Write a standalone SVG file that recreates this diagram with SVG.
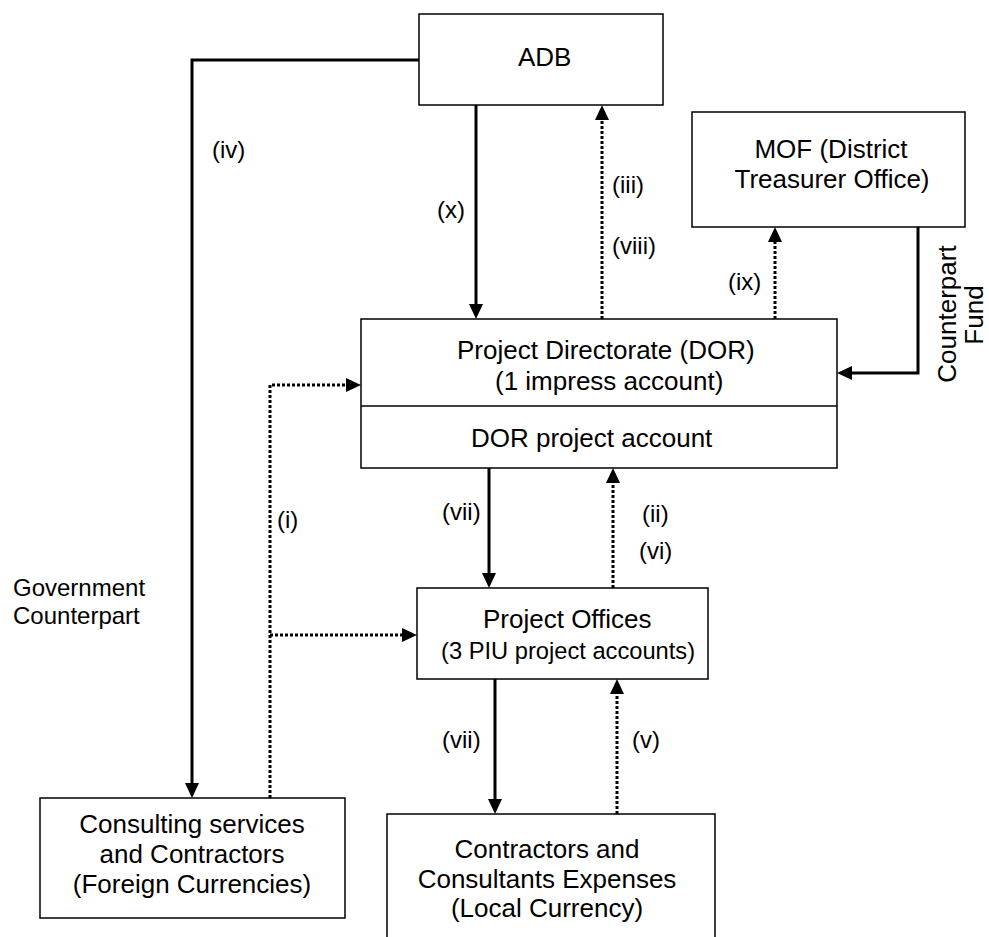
<svg xmlns="http://www.w3.org/2000/svg" width="989" height="937" viewBox="0 0 989 937">
<style>
  text { font-family: "Liberation Sans", Arial, sans-serif; fill: #000; }
  .t { font-size: 26px; }
  .s { font-size: 23.7px; }
  .lbl { font-size: 24px; }
  .box { fill: #fff; stroke: #000; stroke-width: 1.5; }
  .solid { fill: none; stroke: #000; stroke-width: 3; marker-end: url(#ah); }
  .dot { fill: none; stroke: #000; stroke-width: 3; stroke-dasharray: 3 2; marker-end: url(#ah); }
</style>
<defs>
  <marker id="ah" markerUnits="userSpaceOnUse" markerWidth="16" markerHeight="16" refX="10" refY="7" orient="auto">
    <path d="M0,0 L15,7 L0,14 z" fill="#000"/>
  </marker>
</defs>
<rect width="989" height="937" fill="#fff"/>

<g id="connectors">
  <path class="solid" d="M419,60 H192 V793"/>
  <path class="solid" d="M476,105 V314"/>
  <path class="dot" d="M602,319 V110"/>
  <path class="dot" d="M775,319 V232"/>
  <path class="solid" d="M918,227 V373 H842"/>
  <path class="dot" d="M270,798 V385 H356"/>
  <path class="dot" d="M270,635 H412"/>
  <path class="solid" d="M489,468 V583"/>
  <path class="dot" d="M613,588 V473"/>
  <path class="solid" d="M495,679 V809"/>
  <path class="dot" d="M617,814 V684"/>
</g>

<g id="labels">
  <text class="lbl" x="212" y="158">(iv)</text>
  <text class="lbl" x="437" y="218">(x)</text>
  <text class="lbl" x="612" y="193">(iii)</text>
  <text class="lbl" x="612" y="254">(viii)</text>
  <text class="lbl" x="728" y="290">(ix)</text>
  <text class="t" transform="translate(956,314) rotate(-90)" text-anchor="middle">Counterpart</text>
  <text class="t" transform="translate(983,315) rotate(-90)" text-anchor="middle">Fund</text>
  <text class="lbl" x="277" y="528">(i)</text>
  <text class="lbl" x="442" y="520">(vii)</text>
  <text class="lbl" x="642" y="522">(ii)</text>
  <text class="lbl" x="639" y="559">(vi)</text>
  <text class="lbl" x="442" y="748">(vii)</text>
  <text class="lbl" x="632" y="748">(v)</text>
  <text class="lbl" x="13" y="596">Government</text>
  <text class="lbl" x="13" y="624">Counterpart</text>
</g>

<g id="adb">
  <rect class="box" x="419" y="14" width="244" height="91"/>
  <text class="t" x="518" y="66">ADB</text>
</g>

<g id="mof">
  <rect class="box" x="692" y="112" width="273" height="115"/>
  <text class="t" x="831" y="158" text-anchor="middle">MOF (District</text>
  <text class="t" x="832" y="188" text-anchor="middle">Treasurer Office)</text>
</g>

<g id="dor">
  <rect class="box" x="361" y="319" width="476" height="149"/>
  <line x1="361" y1="406" x2="837" y2="406" stroke="#000" stroke-width="1.5"/>
  <text class="t" x="457" y="359">Project Directorate (DOR)</text>
  <text class="t" x="495" y="390">(1 impress account)</text>
  <text class="t" x="471" y="447">DOR project account</text>
</g>

<g id="project-offices">
  <rect class="box" x="417" y="588" width="291" height="91"/>
  <text class="t" x="483" y="628">Project Offices</text>
  <text class="s" x="441" y="659">(3 PIU project accounts)</text>
</g>

<g id="consulting">
  <rect class="box" x="40" y="798" width="305" height="120"/>
  <text class="t" x="192" y="833" text-anchor="middle">Consulting services</text>
  <text class="t" x="192" y="863" text-anchor="middle">and Contractors</text>
  <text class="t" x="192" y="893" text-anchor="middle">(Foreign Currencies)</text>
</g>

<g id="contractors">
  <path class="box" d="M387,945 V814 H715 V945"/>
  <text class="t" x="547" y="858" text-anchor="middle">Contractors and</text>
  <text class="t" x="547" y="888" text-anchor="middle">Consultants Expenses</text>
  <text class="t" x="547" y="917" text-anchor="middle">(Local Currency)</text>
</g>
</svg>
